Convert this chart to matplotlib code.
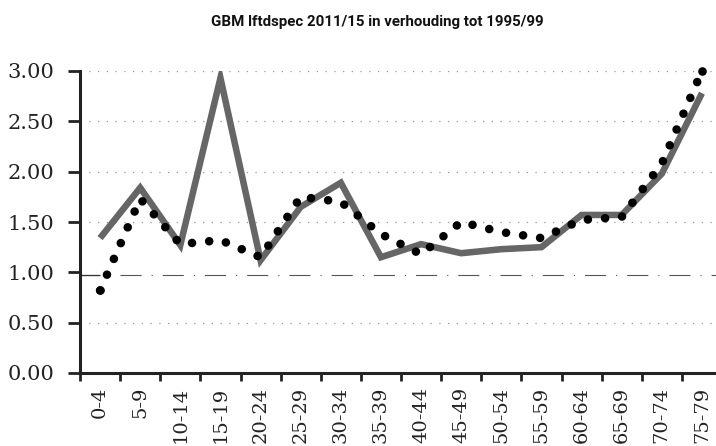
import matplotlib
matplotlib.use("Agg")
import matplotlib.pyplot as plt
import numpy as np

categories = ["0-4", "5-9", "10-14", "15-19", "20-24", "25-29", "30-34", "35-39",
              "40-44", "45-49", "50-54", "55-59", "60-64", "65-69", "70-74", "75-79"]
solid_series = [1.34, 1.84, 1.27, 2.93, 1.12, 1.65, 1.89, 1.15,
                1.28, 1.19, 1.23, 1.25, 1.57, 1.57, 1.98, 2.78]
dotted_series = [0.82, 1.73, 1.28, 1.32, 1.15, 1.75, 1.70, 1.38,
                 1.18, 1.50, 1.40, 1.34, 1.52, 1.55, 2.08, 3.00]
y_ticks = [0.0, 0.5, 1.0, 1.5, 2.0, 2.5, 3.0]
y_labels = ["0.00", "0.50", "1.00", "1.50", "2.00", "2.50", "3.00"]
title = "GBM lftdspec 2011/15 in verhouding tot 1995/99"

W, H = 716, 446
fig = plt.figure(figsize=(W / 100, H / 100), dpi=100)
ax = fig.add_axes([80 / W, 73 / H, (W - 80) / W, (373 - 71) / H])

x = np.arange(len(categories))

# grid lines
for yv in y_ticks[1:]:
    if yv == 1.0:
        ax.axhline(yv - 0.03, color="#555555", lw=0.8,
                   linestyle=(2, (19, 9, 1, 9)), zorder=1)
        ax.plot([-0.5, 0.0], [0.97, 0.97], color="#333333", lw=0.9,
                zorder=1, solid_capstyle="butt")
    else:
        ax.axhline(yv, color="#999999", lw=0.9, linestyle=(0, (1, 6)), zorder=1)

ax.plot(x, solid_series, color="#666666", lw=4.7, solid_joinstyle="miter",
        solid_capstyle="butt", zorder=3)
dl, = ax.plot(x, dotted_series, color="black", lw=6.2, zorder=4, clip_on=False,
              marker="o", markersize=6.2, markeredgewidth=0,
              markevery=[0, len(categories) - 1])
dl.set_dashes((0.001, 2.0))
dl.set_dash_capstyle("round")

ax.set_xlim(-0.5, 15.35)
ax.set_ylim(0, 3.0)

ax.set_yticks(y_ticks)
ax.set_yticklabels(y_labels, family="DejaVu Serif", fontsize=15, color="#222222")
ax.set_xticks(x)
ax.set_xticklabels(categories, rotation=90, family="DejaVu Serif",
                   fontsize=14, color="#222222")
ax.set_xticks(np.arange(-0.5, 15.5, 1.0), minor=True)
ax.tick_params(axis="x", which="major", length=0, pad=10)
ax.tick_params(axis="x", which="minor", length=6, width=2.0, direction="out", color="#222222")
ax.tick_params(axis="y", which="major", length=8.5, width=2.0, direction="out",
               color="#222222", pad=10)

for s in ["top", "right"]:
    ax.spines[s].set_visible(False)
for s in ["left", "bottom"]:
    ax.spines[s].set_linewidth(2.2)
    ax.spines[s].set_color("#222222")

fig.text(377 / W, 1 - 22 / H, title, ha="center", va="center",
         family="Roboto", fontweight="bold", fontsize=10.8, color="#111111")

fig.savefig("out.png", dpi=100)
